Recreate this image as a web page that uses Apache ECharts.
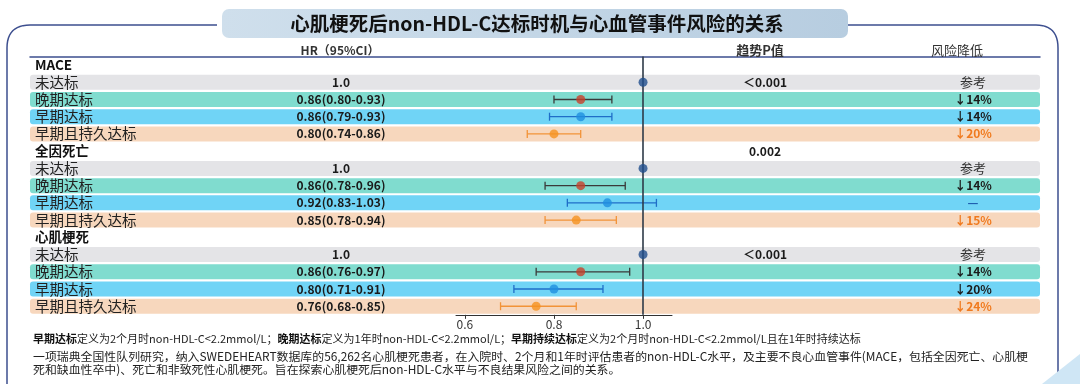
<!DOCTYPE html>
<html><head><meta charset="utf-8">
<script src="https://cdn.jsdelivr.net/npm/echarts@6/dist/echarts.min.js"></script>
<style>html,body{margin:0;padding:0;background:#fff}#c{width:1080px;height:384px}</style>
</head><body><div id="c"></div>
<script>
// ---------------- data ----------------
const chartTitle = '心肌梗死后non-HDL-C达标时机与心血管事件风险的关系';
const colHeaders = ['HR（95%CI）', '趋势P值', '风险降低'];
const rowLabels = ['MACE','未达标','晚期达标','早期达标','早期且持久达标',
                   '全因死亡','未达标','晚期达标','早期达标','早期且持久达标',
                   '心肌梗死','未达标','晚期达标','早期达标','早期且持久达标'];
const rowKinds = ['head','ref','late','early','persist',
                  'head','ref','late','early','persist',
                  'head','ref','late','early','persist'];
const hrText = ['','1.0','0.86(0.80-0.93)','0.86(0.79-0.93)','0.80(0.74-0.86)',
                '','1.0','0.86(0.78-0.96)','0.92(0.83-1.03)','0.85(0.78-0.94)',
                '','1.0','0.86(0.76-0.97)','0.80(0.71-0.91)','0.76(0.68-0.85)'];
const pText = ['','＜0.001','','','',
               '0.002','','','','',
               '','＜0.001','','',''];
const riskText = ['','参考','↓14%','↓14%','↓20%',
                  '','参考','↓14%','—','↓15%',
                  '','参考','↓14%','↓20%','↓24%'];
const hrEst  = [null,1.0,0.86,0.86,0.80, null,1.0,0.86,0.92,0.85, null,1.0,0.86,0.80,0.76];
const ciLow  = [null,null,0.80,0.79,0.74, null,null,0.78,0.83,0.78, null,null,0.76,0.71,0.68];
const ciHigh = [null,null,0.93,0.93,0.86, null,null,0.96,1.03,0.94, null,null,0.97,0.91,0.85];
const xTicks = [0.6, 0.8, 1.0];
const footnote1 = [['b','早期达标'],['n','定义为2个月时non-HDL-C<2.2mmol/L；'],['b','晚期达标'],['n','定义为1年时non-HDL-C<2.2mmol/L；'],['b','早期持续达标'],['n','定义为2个月时non-HDL-C<2.2mmol/L且在1年时持续达标']];
const footnote2 = ['一项瑞典全国性队列研究，纳入SWEDEHEART数据库的56,262名心肌梗死患者，在入院时、2个月和1年时评估患者的non-HDL-C水平，及主要不良心血管事件(MACE，包括全因死亡、心肌梗',
                   '死和缺血性卒中)、死亡和非致死性心肌梗死。旨在探索心肌梗死后non-HDL-C水平与不良结果风险之间的关系。'];

// ---------------- styles ----------------
const FONT = '"Noto Sans CJK SC","Noto Sans",sans-serif';
const bandColor = {ref:'#e4e4e7', late:'#80dccf', early:'#70d4f6', persist:'#f7d7bd'};
const pointColor = {ref:'#1f4e8d', late:'#c8402a', early:'#1f8fe0', persist:'#f5921f'};
const ciColor = {late:'#3a3a3a', early:'#1f6ec8', persist:'#f29338'};
const FRAME = '#3d4f8f';

const TOP = 56.4, ROWH = 17.23, H = ROWH * rowLabels.length;
const BL = 30, BR = 1040;
const COLX = {hr:341, p:765, risk:973};

const idx = rowLabels.map((_, i) => i);

function catAxis(grid, extra) {
  return Object.assign({
    type:'category', gridIndex:grid, data:idx, inverse:true, z:10,
    axisLine:{show:false}, axisTick:{show:false}, splitLine:{show:false}
  }, extra);
}
function hiddenX(grid) {
  return {type:'value', gridIndex:grid, min:0, max:1, show:false};
}

// frame corner (quadratic curve sampled)
function corner(p0, c, p1) {
  const pts = [];
  for (let k = 0; k <= 12; k++) {
    const t = k / 12, u = 1 - t;
    pts.push([u*u*p0[0] + 2*u*t*c[0] + t*t*p1[0], u*u*p0[1] + 2*u*t*c[1] + t*t*p1[1]]);
  }
  return pts;
}
const frameL = [[217,25]].concat(corner([30,25],[7,25],[7,48])).concat([[7,384]]);
const frameR = [[848,25]].concat(corner([1036,25],[1058,25],[1058,48])).concat([[1058,384]]);

const option = {
  animation:false,
  backgroundColor:'#fff',
  grid:[
    {left:BL, right:1080-BR, top:TOP, height:H},
    {left:456, width:216, top:TOP, height:H},
    {left:COLX.hr, width:1, top:TOP, height:H},
    {left:COLX.p, width:1, top:TOP, height:H},
    {left:COLX.risk, width:1, top:TOP, height:H}
  ],
  xAxis:[
    {type:'value', gridIndex:0, min:0, max:1, position:'top',
     axisLine:{show:true, lineStyle:{color:FRAME, width:1.5}},
     axisTick:{show:false}, axisLabel:{show:false}, splitLine:{show:false}},
    {type:'value', gridIndex:1, min:0.58, max:1.065, position:'bottom',
     axisLine:{show:true, lineStyle:{color:'#333', width:1}},
     axisTick:{show:true, customValues:xTicks, length:4, lineStyle:{color:'#333'}},
     axisLabel:{customValues:xTicks, formatter:v=>v.toFixed(1), fontSize:12, color:'#333', fontFamily:FONT, margin:4},
     splitLine:{show:false}},
    hiddenX(2), hiddenX(3), hiddenX(4)
  ],
  yAxis:[
    catAxis(0, {axisLabel:{inside:true, interval:0, margin:5, fontFamily:FONT,
      formatter:(v,i)=> rowKinds[i]==='head' ? '{h|'+rowLabels[i]+'}' : '{n|'+rowLabels[i]+'}',
      rich:{h:{fontSize:13.5, fontWeight:'bold', color:'#111', fontFamily:FONT},
            n:{fontSize:14.5, color:'#222', fontFamily:FONT}}}}),
    catAxis(1, {axisLabel:{show:false}}),
    catAxis(2, {axisLabel:{align:'center', interval:0, margin:0, fontFamily:FONT,
      fontSize:12, fontWeight:'bold', color:'#1a1a1a', formatter:(v,i)=>hrText[i]}}),
    catAxis(3, {axisLabel:{align:'center', interval:0, margin:0, fontFamily:FONT,
      fontSize:12, fontWeight:'bold', color:'#1a1a1a', formatter:(v,i)=>pText[i]}}),
    catAxis(4, {axisLabel:{align:'center', interval:0, margin:0, fontFamily:FONT,
      formatter:(v,i)=>{
        const t = riskText[i]; if (!t) return '';
        if (t==='参考') return '{r|'+t+'}';
        if (t==='—') return '{d|'+t+'}';
        return rowKinds[i]==='persist' ? '{o|'+t+'}' : '{k|'+t+'}';
      },
      rich:{r:{fontSize:13, color:'#333', fontFamily:FONT},
            d:{fontSize:12, color:'#1f5fb0', fontWeight:'bold', fontFamily:FONT},
            k:{fontSize:12, color:'#1a1a1a', fontWeight:'bold', fontFamily:FONT},
            o:{fontSize:12, color:'#f07a1e', fontWeight:'bold', fontFamily:FONT}}}})
  ],
  series:[
    {type:'bar', xAxisIndex:0, yAxisIndex:0, barWidth:15, z:1, silent:true,
     data: rowKinds.map(k => k==='head' ? '-' : {value:1, itemStyle:{color:bandColor[k], borderRadius:3}})},
    {type:'custom', xAxisIndex:1, yAxisIndex:1, z:4, silent:true,
     encode:{x:[0,1], y:2},
     data: idx.filter(i=>ciLow[i]!=null).map(i=>[ciLow[i], ciHigh[i], i]),
     renderItem:(params, api)=>{
       const r = api.value(2);
       const lo = api.coord([api.value(0), r]);
       const hi = api.coord([api.value(1), r]);
       const c = ciColor[rowKinds[r]], h = 4, st = {stroke:c, lineWidth:1.3};
       return {type:'group', children:[
         {type:'line', shape:{x1:lo[0],y1:lo[1],x2:hi[0],y2:hi[1]}, style:st},
         {type:'line', shape:{x1:lo[0],y1:lo[1]-h,x2:lo[0],y2:lo[1]+h}, style:st},
         {type:'line', shape:{x1:hi[0],y1:hi[1]-h,x2:hi[0],y2:hi[1]+h}, style:st}
       ]};
     }},
    {type:'scatter', xAxisIndex:1, yAxisIndex:1, z:5, silent:true, symbolSize:9,
     data: idx.filter(i=>hrEst[i]!=null).map(i=>({value:[hrEst[i], i], itemStyle:{color:pointColor[rowKinds[i]]}})),
     markLine:{silent:true, symbol:'none', label:{show:false},
       lineStyle:{color:'#2e3a48', width:1.6, type:'solid'},
       data:[{xAxis:1.0}]}}
  ],
  graphic:[
    {type:'polyline', silent:true, z:0, shape:{points:frameL}, style:{stroke:FRAME, lineWidth:1.5, fill:null}},
    {type:'polyline', silent:true, z:0, shape:{points:frameR}, style:{stroke:FRAME, lineWidth:1.5, fill:null}},
    {type:'rect', silent:true, z:10, shape:{x:222, y:9, width:626, height:29, r:7},
     style:{fill:{type:'linear', x:0, y:0, x2:1, y2:0, colorStops:[{offset:0,color:'#cfdfec'},{offset:1,color:'#b7cde0'}]}}},
    {type:'text', silent:true, z:11, style:{text:chartTitle, x:537, y:24, align:'center', verticalAlign:'middle',
      font:'bold 19.5px '+FONT, fill:'#111'}},
    {type:'text', silent:true, z:11, style:{text:colHeaders[0], x:340, y:50, align:'center', verticalAlign:'middle',
      font:'bold 12px '+FONT, fill:'#333'}},
    {type:'text', silent:true, z:11, style:{text:colHeaders[1], x:760, y:50, align:'center', verticalAlign:'middle',
      font:'bold 13px '+FONT, fill:'#333'}},
    {type:'text', silent:true, z:11, style:{text:colHeaders[2], x:957, y:50, align:'center', verticalAlign:'middle',
      font:'13px '+FONT, fill:'#333'}},
    {type:'text', silent:true, z:11, style:{
      text: footnote1.map(p=>'{'+p[0]+'|'+p[1]+'}').join(''), x:33, y:339, verticalAlign:'middle',
      rich:{b:{font:'bold 11px '+FONT, fill:'#111'}, n:{font:'11px '+FONT, fill:'#222'}}}},
    {type:'text', silent:true, z:11, style:{text:footnote2[0], x:33, y:356, verticalAlign:'middle',
      font:'11.9px '+FONT, fill:'#222'}},
    {type:'text', silent:true, z:11, style:{text:footnote2[1], x:33, y:369, verticalAlign:'middle',
      font:'11.9px '+FONT, fill:'#222'}},
    {type:'polygon', silent:true, z:0, shape:{points:[[1080,354],[1080,384],[1042,384]]},
     style:{fill:'#cfe6f5'}}
  ]
};
echarts.init(document.getElementById('c'), null, {renderer:'canvas'}).setOption(option);
</script></body></html>
